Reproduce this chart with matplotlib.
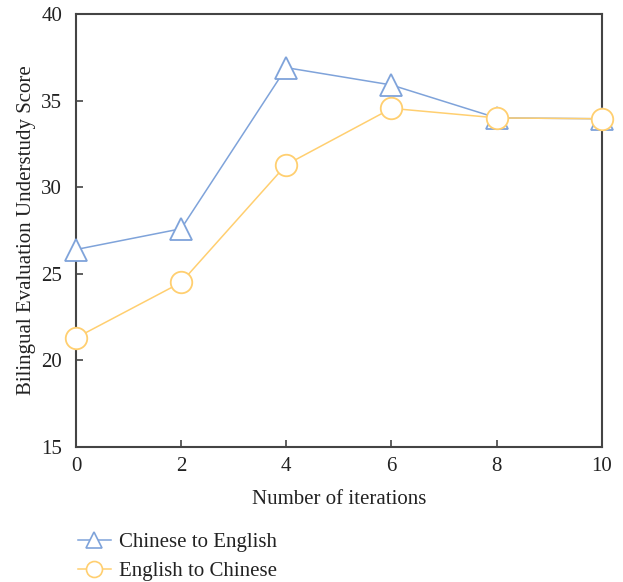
import matplotlib
matplotlib.use("Agg")
import matplotlib.pyplot as plt

iterations = [0, 2, 4, 6, 8, 10]
zh_to_en = [26.4, 27.6, 36.9, 35.9, 34.0, 33.95]
en_to_zh = [21.3, 24.5, 31.3, 34.55, 34.0, 33.95]
series_labels = ["Chinese to English", "English to Chinese"]
x_ticks = [0, 2, 4, 6, 8, 10]
y_ticks = [15, 20, 25, 30, 35, 40]

plt.rcParams["font.family"] = ["Liberation Serif", "DejaVu Serif"]

fig = plt.figure(figsize=(6.23, 5.82), dpi=100)
ax = fig.add_axes([0.122, 0.232, 0.844, 0.744])

blue = "#7FA3DA"
orange = "#FFCF70"

l1, = ax.plot(iterations, zh_to_en, color=blue, lw=1.1, marker="^", ms=16,
              mfc="white", mec=blue, mew=1.3, label=series_labels[0], zorder=3)
l2, = ax.plot(iterations, en_to_zh, color=orange, lw=1.1, marker="o", ms=15.5,
              mfc="white", mec=orange, mew=1.3, label=series_labels[1], zorder=4)

ax.set_xlim(0, 10)
ax.set_ylim(15, 40)
ax.set_xticks(x_ticks)
ax.set_yticks(y_ticks)
ax.tick_params(direction="in", length=5, width=1.2, color="#444444",
               labelsize=15, labelcolor="#222222")
ax.tick_params(axis="y", pad=10)
ax.tick_params(axis="x", pad=7)
for s in ax.spines.values():
    s.set_color("#444444")
    s.set_linewidth(1.5)
    s.set_clip_on(False)
for l in (l1, l2):
    l.set_clip_on(False)

ax.set_xlabel("Number of iterations", fontsize=15, color="#222222", labelpad=10)
ax.set_ylabel("Bilingual Evaluation Understudy Score", fontsize=15,
              color="#222222", labelpad=4)

leg_handles = []
for c, m, s in ((blue, "^", 12), (orange, "o", 11.5)):
    h, = ax.plot([], [], color=c, lw=1.1, marker=m, ms=s, mfc="white",
                 mec=c, mew=1.2)
    leg_handles.append(h)
fig.legend(leg_handles, series_labels, loc="upper left",
           bbox_to_anchor=(0.108, 0.103), frameon=False, fontsize=15,
           handlelength=1.6, handletextpad=0.4, labelspacing=0.47,
           borderpad=0, labelcolor="#222222")

fig.savefig("out.png", dpi=100)
